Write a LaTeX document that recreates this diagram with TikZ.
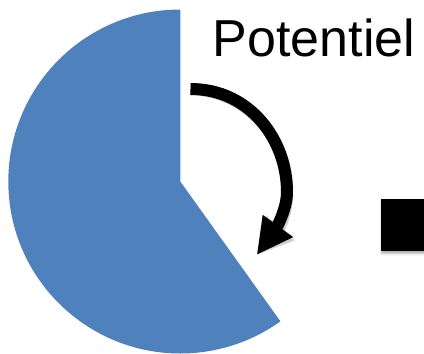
\documentclass[tikz,border=0pt]{standalone}
\usepackage{fontspec}
\setmainfont{Liberation Sans}
\usetikzlibrary{arrows.meta,shadows.blur}
\definecolor{pieblue}{RGB}{79,129,189}
\tikzset{
  piesector/.style={fill=pieblue},
  bigarrow/.style={line width=12pt, line cap=butt, -{Triangle[length=36pt,width=35pt]}},
  arrowshadow/.style={bigarrow, draw=black, opacity=0.18},
  blackbox/.style={fill=black, inner sep=0pt, minimum width=54pt, minimum height=52.4pt, anchor=north west,
    blur shadow={shadow xshift=1pt, shadow yshift=-2.5pt, shadow opacity=35, shadow blur radius=2.5pt}},
  labeltext/.style={inner sep=0pt, anchor=base west, font=\fontsize{52}{62}\selectfont}
}
\begin{document}
\begin{tikzpicture}[x=1pt,y=1pt]
\useasboundingbox (0,0) rectangle (424,-354);
\clip (0,0) rectangle (424,-354);
\coordinate (c) at (180.3,-181.5);
\fill[piesector] (c) -- (180.3,-9.5) arc[start angle=90, end angle=305.6, radius=172pt] -- cycle;
\node[labeltext] (pot) at (212.6,-56) {Potentiel};
\coordinate (a0) at (190.5,-89);
\coordinate (a1) at (287,-192);
\coordinate (a2) at (256.7,-255);
\begin{scope}[shift={(1.5,-2.5)}]
\draw[arrowshadow] (a0) .. controls (250,-89) and (287,-140) .. (a1) .. controls (287,-210) and (275,-230) .. (a2);
\end{scope}
\draw[bigarrow] (a0) .. controls (250,-89) and (287,-140) .. (a1) .. controls (287,-210) and (275,-230) .. (a2);
\node[blackbox] (box) at (380.7,-198.3) {};
\end{tikzpicture}
\end{document}
